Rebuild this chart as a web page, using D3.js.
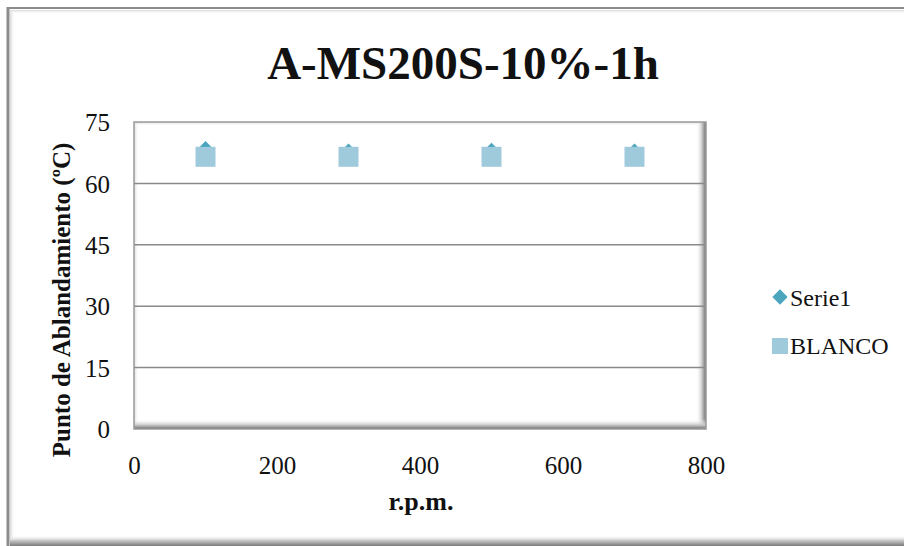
<!DOCTYPE html>
<html>
<head>
<meta charset="utf-8">
<script src="https://cdn.jsdelivr.net/npm/d3@7"></script>
<style>
  html, body { margin: 0; padding: 0; background: #fff; }
  svg { display: block; font-family: "Liberation Serif", "DejaVu Serif", serif; }
</style>
</head>
<body>
<svg id="chart" width="904" height="546"></svg>
<script>
// Softening point per stirring speed
const chartTitle = "A-MS200S-10%-1h";
const xLabel = "r.p.m.";
const yLabel = "Punto de Ablandamiento (ºC)";
const rpm = [100, 300, 500, 700];
const serie1 = [68.4, 67.8, 68.0, 67.8];
const blanco = [66.5, 66.5, 66.5, 66.5];
const xTicks = [0, 200, 400, 600, 800];
const yTicks = [0, 15, 30, 45, 60, 75];
const seriesNames = ["Serie1", "BLANCO"];
const seriesColors = ["#4aa5bd", "#9fcadb"];

const svg = d3.select("#chart");
const W = 904, H = 546;
const plot = { left: 134, top: 122, right: 706, bottom: 429 };

const defs = svg.append("defs");
function grad(id, x1, y1, x2, y2, stops) {
  const g = defs.append("linearGradient").attr("id", id)
    .attr("x1", x1).attr("y1", y1).attr("x2", x2).attr("y2", y2);
  stops.forEach(s => g.append("stop").attr("offset", s[0]).attr("stop-color", s[1]).attr("stop-opacity", s[2] ?? 1));
}
grad("bevelR", 0, 0, 1, 0, [[0, "#ffffff", 0], [0.6, "#c8c8c8", 1], [1, "#6e6e6e", 1]]);
grad("bevelB", 0, 0, 0, 1, [[0, "#ffffff", 0], [0.6, "#c8c8c8", 1], [1, "#6e6e6e", 1]]);
grad("bevelL", 0, 0, 1, 0, [[0, "#d8d8d8", 1], [1, "#ffffff", 0]]);
grad("bevelT", 0, 0, 0, 1, [[0, "#d8d8d8", 1], [1, "#ffffff", 0]]);
grad("outerB", 0, 0, 0, 1, [[0, "#ffffff", 0], [0.5, "#c8c8c8", 1], [1, "#7a7a7a", 1]]);

// Chart frame
svg.append("rect").attr("x", 0).attr("y", 0).attr("width", W).attr("height", H).attr("fill", "#fff");
svg.append("rect").attr("x", 10).attr("y", 535).attr("width", W).attr("height", 11).attr("fill", "url(#outerB)");
svg.append("rect").attr("x", 10).attr("y", 10).attr("width", 5).attr("height", 530).attr("fill", "url(#bevelL)");
svg.append("rect").attr("x", 10).attr("y", 10).attr("width", W).attr("height", 4).attr("fill", "url(#bevelT)");
svg.append("line").attr("x1", 8).attr("y1", 7).attr("x2", 8).attr("y2", 546).attr("stroke", "#8c8c8c").attr("stroke-width", 3);
svg.append("line").attr("x1", 7).attr("y1", 8).attr("x2", W).attr("y2", 8).attr("stroke", "#8c8c8c").attr("stroke-width", 2);

// Scales
const x = d3.scaleLinear().domain([0, 800]).range([plot.left, plot.right]);
const y = d3.scaleLinear().domain([0, 75]).range([plot.bottom, plot.top]);

// Plot area with bevelled edges
const pw = plot.right - plot.left, ph = plot.bottom - plot.top;
svg.append("rect").attr("x", plot.left).attr("y", plot.top).attr("width", pw).attr("height", ph).attr("fill", "#fff");
svg.append("rect").attr("x", plot.left).attr("y", plot.top).attr("width", 5).attr("height", ph).attr("fill", "url(#bevelL)");
svg.append("rect").attr("x", plot.left).attr("y", plot.top).attr("width", pw).attr("height", 4).attr("fill", "url(#bevelT)");
svg.append("rect").attr("x", plot.right - 10).attr("y", plot.top).attr("width", 10).attr("height", ph).attr("fill", "url(#bevelR)");
svg.append("rect").attr("x", plot.left).attr("y", plot.bottom - 10).attr("width", pw).attr("height", 10).attr("fill", "url(#bevelB)");

// Gridlines
svg.append("g").selectAll("line").data(yTicks.filter(d => d > 0 && d < 75)).join("line")
  .attr("x1", plot.left).attr("x2", plot.right)
  .attr("y1", d => y(d)).attr("y2", d => y(d))
  .attr("stroke", "#8a8a8a").attr("stroke-width", 1.5);

svg.append("rect").attr("x", plot.left).attr("y", plot.top).attr("width", pw).attr("height", ph)
  .attr("fill", "none").attr("stroke", "#9a9a9a").attr("stroke-width", 1.5);

// Axes (labels only)
const yAxis = svg.append("g").attr("transform", `translate(${plot.left - 24},0)`)
  .call(d3.axisLeft(y).tickValues(yTicks).tickSize(0).tickPadding(0));
const xAxis = svg.append("g").attr("transform", `translate(0,${plot.bottom + 22})`)
  .call(d3.axisBottom(x).tickValues(xTicks).tickSize(0).tickPadding(0));
[xAxis, yAxis].forEach(a => {
  a.select(".domain").remove();
  a.selectAll("text").attr("font-family", "Liberation Serif, serif").attr("font-size", 25).attr("fill", "#111");
});
yAxis.selectAll("text").attr("dy", "0.35em");
xAxis.selectAll("text").attr("dy", "0.9em");

// Markers: Serie1 diamonds under BLANCO squares
svg.append("g").selectAll("path").data(rpm).join("path")
  .attr("d", d3.symbol().type(d3.symbolDiamond2).size(160))
  .attr("transform", (d, i) => `translate(${x(d)},${y(serie1[i])})`)
  .attr("fill", seriesColors[0]);
svg.append("g").selectAll("rect").data(rpm).join("rect")
  .attr("x", d => x(d) - 10).attr("width", 20)
  .attr("y", (d, i) => y(blanco[i]) - 10).attr("height", 20)
  .attr("fill", seriesColors[1]);

// Titles
svg.append("text").attr("x", 463).attr("y", 79).attr("text-anchor", "middle")
  .attr("font-size", 47).attr("font-weight", "bold").attr("fill", "#111").text(chartTitle);
svg.append("text").attr("x", 421).attr("y", 510).attr("text-anchor", "middle")
  .attr("font-size", 26).attr("font-weight", "bold").attr("fill", "#111").text(xLabel);
svg.append("text").attr("transform", "translate(70,300) rotate(-90)").attr("text-anchor", "middle")
  .attr("font-size", 25).attr("font-weight", "bold").attr("fill", "#111").text(yLabel);

// Legend
const legend = svg.append("g");
legend.append("path").attr("d", d3.symbol().type(d3.symbolDiamond2).size(150))
  .attr("transform", "translate(780,297)").attr("fill", seriesColors[0]);
legend.append("rect").attr("x", 772).attr("y", 338).attr("width", 16).attr("height", 16).attr("fill", seriesColors[1]);
legend.selectAll("text").data(seriesNames).join("text")
  .attr("x", 790).attr("y", (d, i) => 306 + i * 48)
  .attr("font-size", 24).attr("fill", "#111").text(d => d);
</script>
</body>
</html>
